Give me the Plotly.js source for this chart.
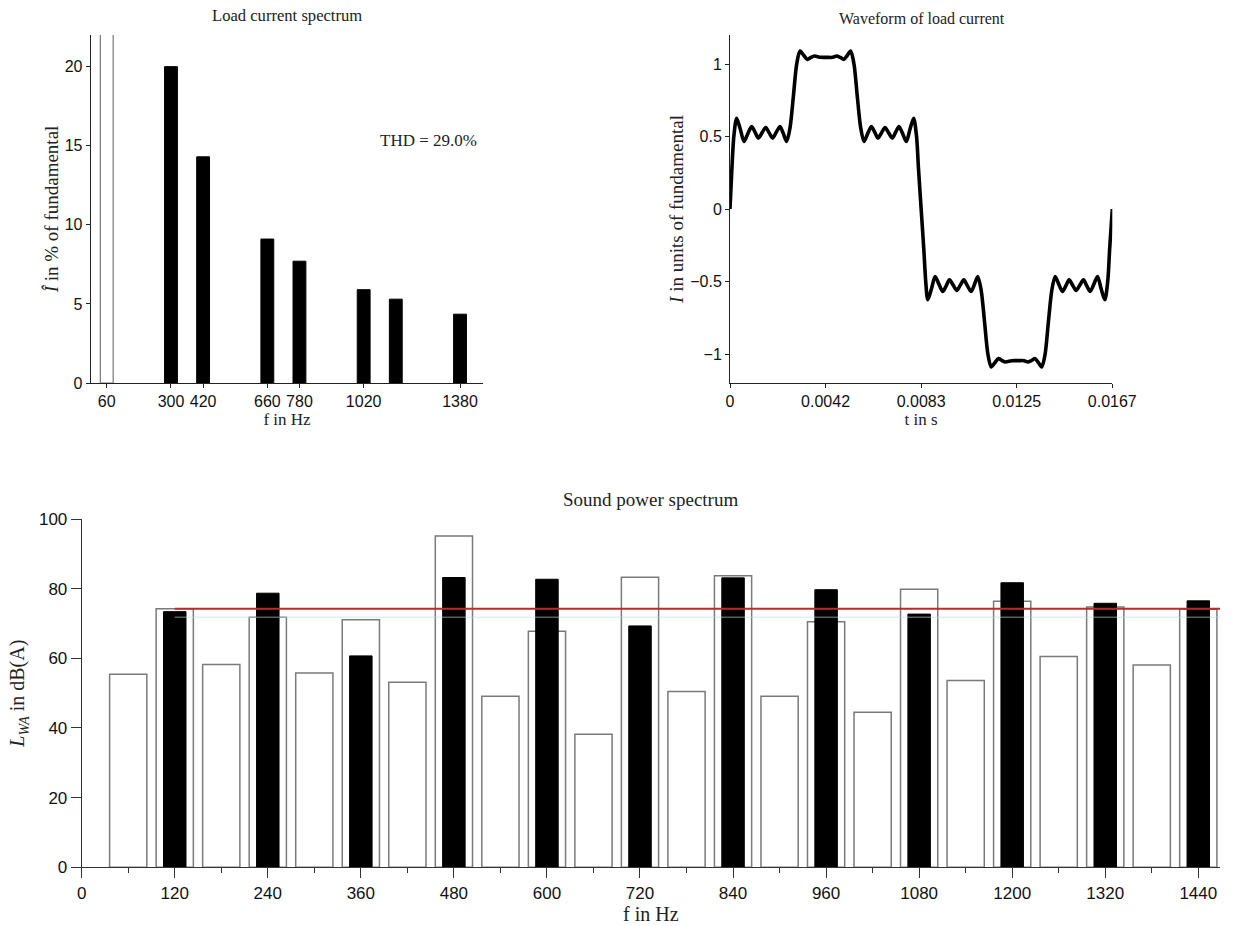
<!DOCTYPE html>
<html>
<head>
<meta charset="utf-8">
<script src="https://cdn.plot.ly/plotly-3.0.1.min.js"></script>
<style>html,body{margin:0;padding:0;background:#fff;}#chart{width:1258px;height:926px;}</style>
</head>
<body>
<div id="chart"></div>
<script>
// ---------- Data: load current spectrum ----------
const fundFreq = [60];
const fundPct = [100];
const harmFreq = [300, 420, 660, 780, 1020, 1140, 1380];
const harmPct = [20.0, 14.3, 9.1, 7.7, 5.9, 5.3, 4.35];
const specTickVals = [60, 300, 420, 660, 780, 1020, 1380];
const thdText = 'THD = 29.0%';

// ---------- Data: waveform of load current ----------
const waveT = [0, 0.0000833, 0.000167, 0.000290, 0.000450, 0.000610, 0.000778, 0.000945, 0.001090, 0.001235,
  0.001395, 0.001555, 0.001708, 0.001860, 0.002020, 0.002180, 0.002325, 0.002470, 0.002617, 0.002762,
  0.002908, 0.003052, 0.003212, 0.003372, 0.003525, 0.003677, 0.003945, 0.004213, 0.004483, 0.004650,
  0.004810, 0.004970, 0.005115, 0.005260, 0.005405, 0.005550, 0.005697, 0.005842, 0.006002, 0.006162,
  0.006307, 0.006452, 0.006603, 0.006757, 0.006917, 0.007077, 0.007222, 0.007367, 0.007527, 0.007687,
  0.007847, 0.008007, 0.008133, 0.008217, 0.008333,
  0.008450, 0.008533, 0.008623, 0.008783, 0.008943, 0.009112, 0.009278, 0.009423, 0.009568, 0.009728,
  0.009888, 0.010042, 0.010193, 0.010353, 0.010513, 0.010658, 0.010803, 0.010950, 0.011095, 0.011242,
  0.011385, 0.011545, 0.011705, 0.011858, 0.012010, 0.012278, 0.012547, 0.012817, 0.012983, 0.013143,
  0.013303, 0.013448, 0.013593, 0.013738, 0.013883, 0.014030, 0.014175, 0.014335, 0.014495, 0.014640,
  0.014785, 0.014937, 0.015090, 0.015250, 0.015410, 0.015555, 0.015700, 0.015860, 0.016020, 0.016180,
  0.016340, 0.016467, 0.016550, 0.016667];
const waveI = [0, 0.280, 0.500, 0.626, 0.550, 0.466, 0.520, 0.569, 0.530, 0.489,
  0.525, 0.562, 0.525, 0.489, 0.530, 0.569, 0.520, 0.466, 0.560, 0.775,
  1.000, 1.089, 1.060, 1.032, 1.045, 1.055, 1.046, 1.046, 1.046, 1.055,
  1.045, 1.032, 1.060, 1.089, 1.000, 0.775, 0.560, 0.466, 0.520, 0.569,
  0.530, 0.489, 0.525, 0.562, 0.525, 0.489, 0.530, 0.569, 0.520, 0.466,
  0.550, 0.626, 0.500, 0.280, 0,
  -0.280, -0.500, -0.626, -0.550, -0.466, -0.520, -0.569, -0.530, -0.489, -0.525,
  -0.562, -0.525, -0.489, -0.530, -0.569, -0.520, -0.466, -0.560, -0.775, -1.000,
  -1.089, -1.060, -1.032, -1.045, -1.055, -1.046, -1.046, -1.046, -1.055, -1.045,
  -1.032, -1.060, -1.089, -1.000, -0.775, -0.560, -0.466, -0.520, -0.569, -0.530,
  -0.489, -0.525, -0.562, -0.525, -0.489, -0.530, -0.569, -0.520, -0.466, -0.550,
  -0.626, -0.500, -0.280, 0];
const waveTickVals = [0, 0.0041667, 0.0083333, 0.0125, 0.0166667];
const waveTickText = ['0', '0.0042', '0.0083', '0.0125', '0.0167'];

// ---------- Data: sound power spectrum ----------
const allFreq = [60, 120, 180, 240, 300, 360, 420, 480, 540, 600, 660, 720, 780, 840, 900, 960, 1020, 1080, 1140, 1200, 1260, 1320, 1380, 1440];
const allLwa = [55.4, 74.2, 58.2, 71.8, 55.8, 71.1, 53.1, 95.1, 49.1, 67.8, 38.2, 83.3, 50.5, 83.7, 49.1, 70.5, 44.5, 79.8, 53.6, 76.4, 60.5, 74.7, 58.1, 74.1];
const evenFreq = [120, 240, 360, 480, 600, 720, 840, 960, 1080, 1200, 1320, 1440];
const evenLwa = [73.4, 78.7, 60.7, 83.2, 82.7, 69.3, 83.1, 79.7, 72.7, 81.7, 75.8, 76.5];
const limitF = [120, 1468];
const limitL = [74.2, 74.2];
const refF = [120, 1468];
const refL = [71.8, 71.8];

// ---------- Layout helpers ----------
const W = 1258, H = 926;
const xd = (a, b) => [a / W, b / W];
const yd = (top, bottom) => [1 - bottom / H, 1 - top / H];
const sans = 'Liberation Sans, Arial, sans-serif';
const serif = 'Liberation Serif, Times New Roman, serif';

function axis(extra) {
  return Object.assign({
    showline: true, linecolor: '#222', linewidth: 1, showgrid: false, zeroline: false,
    ticks: 'outside', ticklen: 4, tickwidth: 1, tickcolor: '#222',
    tickfont: {family: sans, size: 16, color: '#111'}, automargin: false
  }, extra);
}

const traces = [
  {type: 'bar', x: fundFreq, y: fundPct, width: 48, xaxis: 'x', yaxis: 'y',
   marker: {color: 'rgba(0,0,0,0)', line: {color: '#777', width: 1.2}}},
  {type: 'bar', x: harmFreq, y: harmPct, width: 48, xaxis: 'x', yaxis: 'y',
   marker: {color: '#000', line: {color: '#000', width: 1}}},
  {type: 'scatter', mode: 'lines', x: waveT, y: waveI, xaxis: 'x2', yaxis: 'y2',
   line: {color: '#000', width: 3.6, shape: 'spline', smoothing: 0.8}},
  {type: 'bar', x: allFreq, y: allLwa, width: 48, xaxis: 'x3', yaxis: 'y3',
   marker: {color: 'rgba(255,255,255,0)', line: {color: '#7a7a7a', width: 1.5}}},
  {type: 'bar', x: evenFreq, y: evenLwa, width: 29, xaxis: 'x3', yaxis: 'y3',
   marker: {color: '#000', line: {color: '#000', width: 1}}},
  {type: 'scatter', mode: 'lines', x: refF, y: refL, xaxis: 'x3', yaxis: 'y3',
   line: {color: 'rgba(180,222,232,0.45)', width: 1.5}},
  {type: 'scatter', mode: 'lines', x: limitF, y: limitL, xaxis: 'x3', yaxis: 'y3',
   line: {color: '#c0282a', width: 2}}
];

const layout = {
  width: W, height: H, showlegend: false, barmode: 'overlay',
  paper_bgcolor: '#fff', plot_bgcolor: '#fff',
  margin: {l: 0, r: 0, t: 0, b: 0},
  xaxis: axis({domain: xd(90.7, 483.3), range: [0, 1467], tickmode: 'array', tickvals: specTickVals, anchor: 'y',
    title: {text: 'f in Hz', font: {family: serif, size: 17, color: '#222'}, standoff: 2}}),
  yaxis: axis({domain: yd(35, 383), range: [0, 22], tickvals: [0, 5, 10, 15, 20], tickmode: 'array', anchor: 'x',
    title: {text: '<i>Î</i> in % of fundamental', font: {family: serif, size: 19, color: '#222'}, standoff: 1}}),
  xaxis2: axis({domain: xd(730, 1112.3), range: [0, 0.0166667], tickmode: 'array', tickvals: waveTickVals, ticktext: waveTickText, anchor: 'y2',
    title: {text: 't in s', font: {family: serif, size: 17, color: '#222'}, standoff: 2}}),
  yaxis2: axis({domain: yd(35, 383), range: [-1.2, 1.2], tickmode: 'array', tickvals: [-1, -0.5, 0, 0.5, 1], anchor: 'x2',
    title: {text: '<i>I</i> in units of fundamental', font: {family: serif, size: 19, color: '#222'}, standoff: 1}}),
  xaxis3: axis({domain: xd(81.7, 1220), range: [0, 1468], tick0: 0, dtick: 120, ticklen: 10, linecolor: '#333', tickcolor: '#333', anchor: 'y3',
    tickfont: {family: sans, size: 17, color: '#111'},
    minor: {ticks: 'outside', ticklen: 5, tick0: 0, dtick: 60, tickcolor: '#333', showgrid: false},
    title: {text: 'f in Hz', font: {family: serif, size: 20, color: '#222'}, standoff: 2}}),
  yaxis3: axis({domain: yd(519, 867.3), range: [0, 100], tick0: 0, dtick: 20, ticklen: 10, linecolor: '#333', tickcolor: '#333', anchor: 'x3',
    tickfont: {family: sans, size: 17, color: '#111'},
    title: {text: '<i>L</i><sub><i>WA</i></sub> in dB(A)', font: {family: serif, size: 20, color: '#222'}, standoff: 8}}),
  annotations: [
    {text: 'Load current spectrum', xref: 'paper', yref: 'paper', x: 287 / W, y: 1 - 15 / H, showarrow: false,
     xanchor: 'center', yanchor: 'middle', font: {family: serif, size: 16.6, color: '#222'}},
    {text: 'Waveform of load current', xref: 'paper', yref: 'paper', x: 921.5 / W, y: 1 - 19 / H, showarrow: false,
     xanchor: 'center', yanchor: 'middle', font: {family: serif, size: 16, color: '#222'}},
    {text: 'Sound power spectrum', xref: 'paper', yref: 'paper', x: 650.5 / W, y: 1 - 500 / H, showarrow: false,
     xanchor: 'center', yanchor: 'middle', font: {family: serif, size: 19, color: '#222'}},
    {text: thdText, xref: 'x', yref: 'y', x: 1262, y: 15.35, showarrow: false,
     xanchor: 'center', yanchor: 'middle', font: {family: serif, size: 17, color: '#222'}}
  ]
};

Plotly.newPlot('chart', traces, layout, {displayModeBar: false, staticPlot: true});
</script>
</body>
</html>
